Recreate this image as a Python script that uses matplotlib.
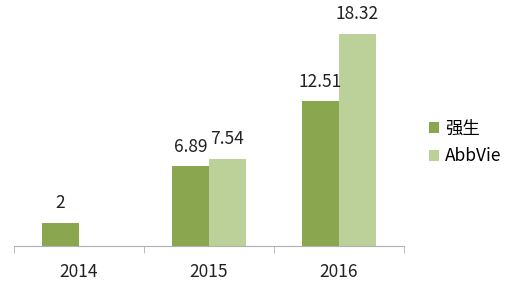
import numpy as np
import matplotlib
matplotlib.use("Agg")
import matplotlib.pyplot as plt

plt.rcParams['font.family'] = ['Noto Sans CJK SC', 'DejaVu Sans']

years = ['2014', '2015', '2016']
jnj = [2, 6.89, 12.51]
abbvie = [np.nan, 7.54, 18.32]
series_names = ['强生', 'AbbVie']
colors = ['#8aa64e', '#bcd09a']

fig = plt.figure(figsize=(5.1, 2.88), dpi=100)
ax = fig.add_axes([0.027, 0.146, 0.765, 0.805])

x = np.arange(len(years))
w = 0.285
b1 = ax.bar(x - w / 2, jnj, w, color=colors[0], label=series_names[0])
b2 = ax.bar(x + w / 2, abbvie, w, color=colors[1], label=series_names[1])

for bars, vals in [(b1, jnj), (b2, abbvie)]:
    for rect, v in zip(bars, vals):
        if np.isnan(v):
            continue
        ax.text(rect.get_x() + rect.get_width() / 2, v + 0.9, f"{v:g}",
                ha='center', va='bottom', fontsize=12.5, color='#222222')

ax.set_xlim(-0.5, 2.5)
ax.set_ylim(0, 20)
ax.set_yticks([])
for s in ['top', 'right', 'left']:
    ax.spines[s].set_visible(False)
ax.spines['bottom'].set_color('#b0b0b0')
ax.set_xticks(x)
ax.set_xticklabels(years, fontsize=12.5, color='#222222')
ax.tick_params(axis='x', length=0, pad=12)
ax.set_xticks([-0.5, 0.5, 1.5, 2.5], minor=True)
ax.tick_params(axis='x', which='minor', length=5, color='#b0b0b0', direction='out')

fig.legend(handles=[b1, b2], labels=series_names, loc='center left',
           bbox_to_anchor=(0.81, 0.505), frameon=False, fontsize=12.5,
           handlelength=0.6, handleheight=0.6, handletextpad=0.35, labelspacing=0.55)

fig.savefig('out.png', dpi=100)
